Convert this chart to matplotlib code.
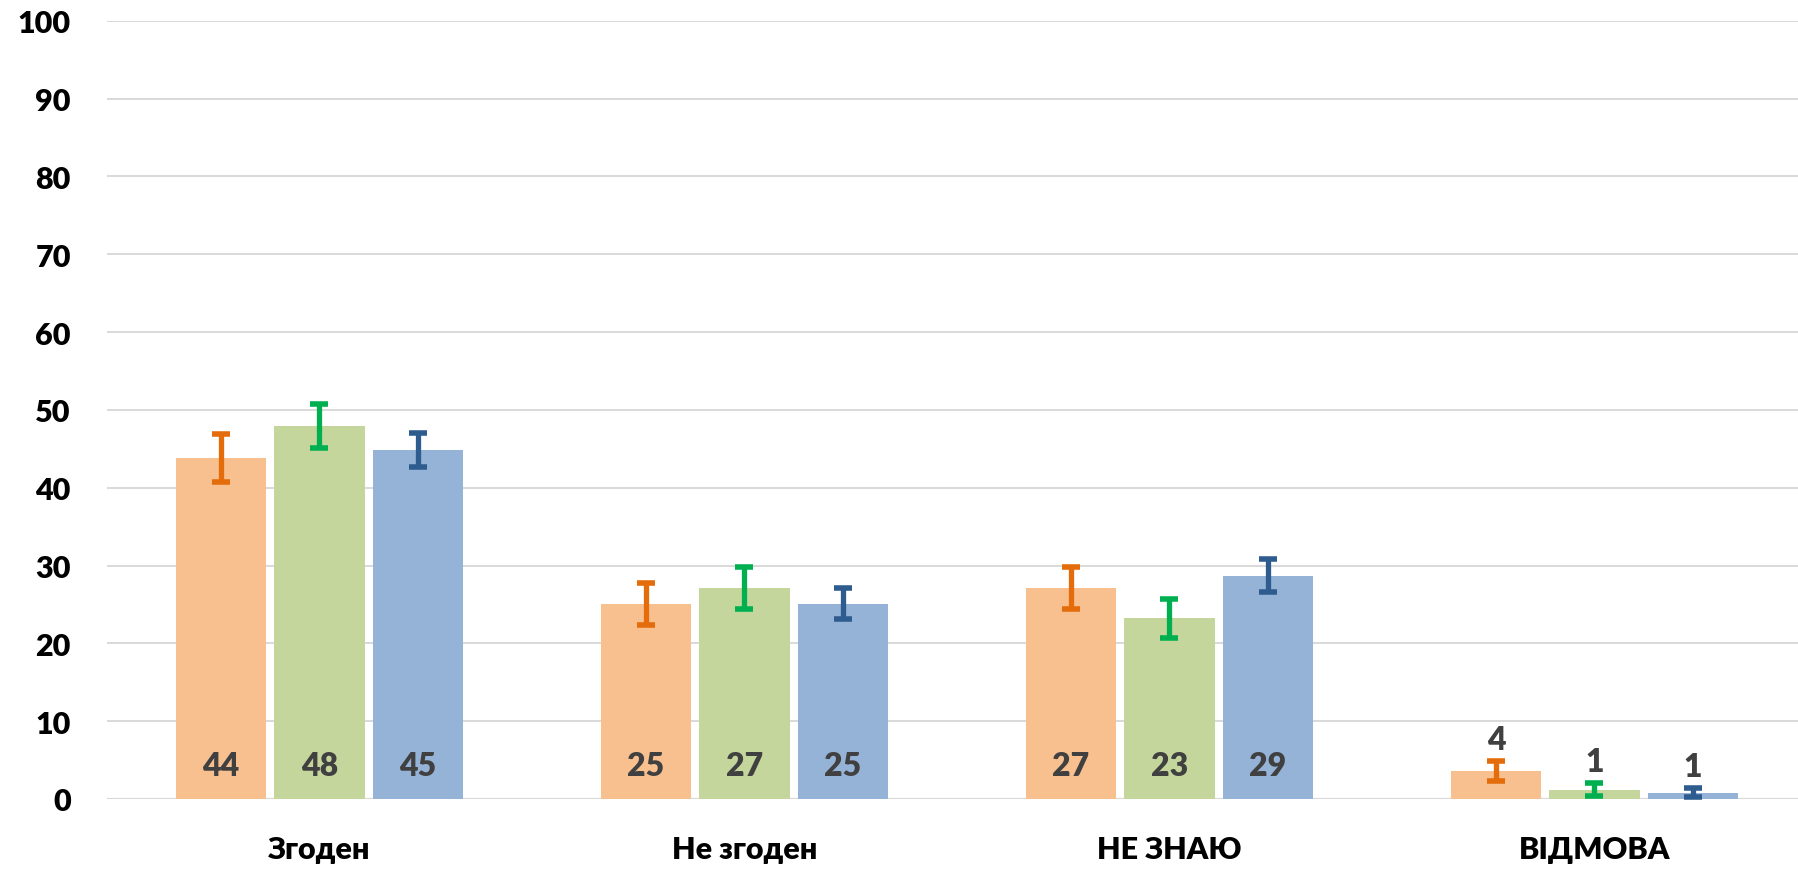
import numpy as np
import matplotlib
matplotlib.use("Agg")
import matplotlib.pyplot as plt

plt.rcParams['font.family'] = ['Lato', 'Noto Sans', 'DejaVu Sans']
plt.rcParams['font.weight'] = 'heavy'

categories = ["Згоден", "Не згоден", "НЕ ЗНАЮ", "ВІДМОВА"]
orange_vals = [43.8, 25.0, 27.1, 3.6]
green_vals = [47.9, 27.1, 23.2, 1.2]
blue_vals = [44.8, 25.1, 28.7, 0.8]
orange_err = [3.1, 2.7, 2.75, 1.25]
green_err = [2.85, 2.65, 2.5, 0.85]
blue_err = [2.2, 1.95, 2.1, 0.6]

series = [
    (orange_vals, orange_err, "#F9C08F", "#E46C0A"),
    (green_vals, green_err, "#C4D69B", "#00B050"),
    (blue_vals, blue_err, "#95B2D7", "#2F5C8F"),
]

fig = plt.figure(figsize=(17.99, 8.70), dpi=100)
ax = fig.add_axes([107 / 1799, 70 / 870, 1 - 107 / 1799, (800 - 21.7) / 870])

x = np.arange(len(categories))
offs = [-0.232, 0.0, 0.232]
width = 0.212

for (vals, errs, fc, ec), off in zip(series, offs):
    xs = x + off
    ax.bar(xs, vals, width=width, color=fc, zorder=2)
    ax.errorbar(xs, vals, yerr=errs, fmt="none", ecolor=ec, elinewidth=3.8,
                capsize=6.5, capthick=4.0, zorder=3)
    for xi, v, e in zip(xs, vals, errs):
        if v > 10:
            ax.text(xi, 4.25, f"{v:.0f}", ha="center", va="center",
                    fontsize=23, fontweight="heavy", color="#404040", zorder=4)
        else:
            ax.annotate(f"{v:.0f}", (xi, v + e), xytext=(0, 5),
                        textcoords="offset points", ha="center", va="bottom",
                        fontsize=23, fontweight="heavy", color="#404040", zorder=4)

ax.set_ylim(0, 100)
ax.set_xlim(-0.5, 3.5 - 8 / 425)
ax.set_yticks(np.arange(0, 101, 10))
ax.set_xticks(x)
ax.set_xticklabels(categories)
ax.yaxis.grid(True, color="#D9D9D9", lw=1.4, zorder=0)
ax.set_axisbelow(True)
for s in ax.spines.values():
    s.set_visible(False)
ax.axhline(0, color="#D9D9D9", lw=1.6, zorder=1)
ax.tick_params(axis="y", length=0, pad=26, labelsize=22, labelcolor="black")
ax.tick_params(axis="x", length=0, pad=26, labelsize=22, labelcolor="black")
for lab in ax.get_xticklabels() + ax.get_yticklabels():
    lab.set_fontweight("heavy")

fig.savefig("out.png", dpi=100)
